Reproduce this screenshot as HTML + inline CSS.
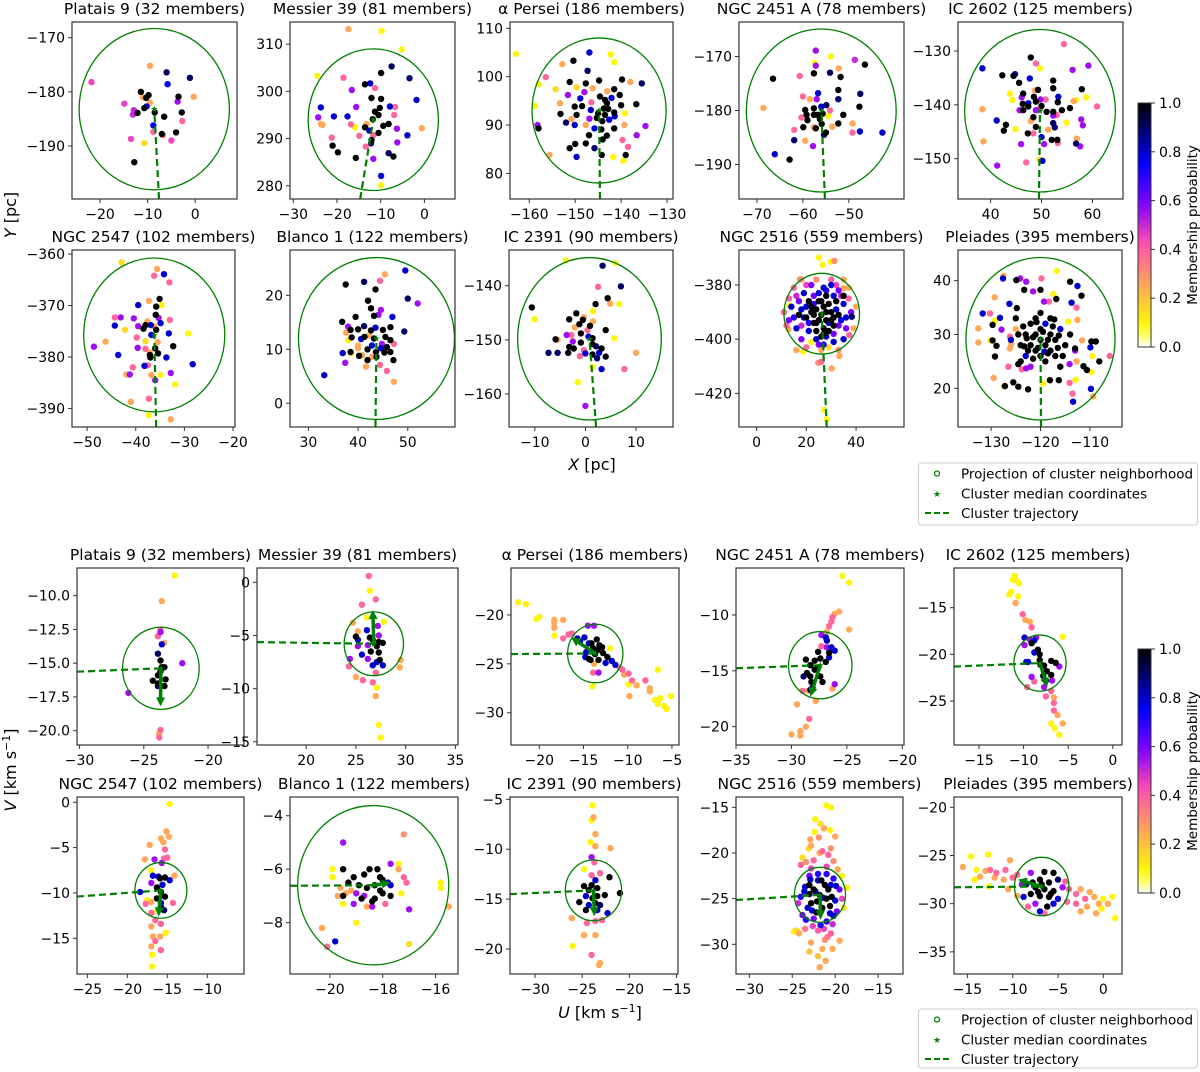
<!DOCTYPE html>
<html><head><meta charset="utf-8">
<style>
html,body{margin:0;padding:0;background:#fff;}
svg{display:block;font-family:"DejaVu Sans","Liberation Sans",sans-serif;}
</style></head>
<body>
<svg id="fig" width="1200" height="1072" viewBox="0 0 1200 1072" xmlns="http://www.w3.org/2000/svg">
<defs>
<linearGradient id="cbgrad" x1="0" y1="1" x2="0" y2="0"></linearGradient>
</defs>
<g id="panels"></g>
<text transform="translate(16,215) rotate(-90)" text-anchor="middle" font-size="16"><tspan font-style="italic">Y</tspan> [pc]</text>
<text x="592" y="470" text-anchor="middle" font-size="16"><tspan font-style="italic">X</tspan> [pc]</text>
<text transform="translate(16,770) rotate(-90)" text-anchor="middle" font-size="16"><tspan font-style="italic">V</tspan> [km s<tspan dy="-6" font-size="11">−1</tspan><tspan dy="6">]</tspan></text>
<text x="600" y="1018" text-anchor="middle" font-size="16"><tspan font-style="italic">U</tspan> [km s<tspan dy="-6" font-size="11">−1</tspan><tspan dy="6">]</tspan></text>
<g id="cbars"></g>
<g id="legends"></g>
</svg>
<script>
// ---------- data ----------
const titles=["Platais 9 (32 members)","Messier 39 (81 members)","α Persei (186 members)","NGC 2451 A (78 members)","IC 2602 (125 members)","NGC 2547 (102 members)","Blanco 1 (122 members)","IC 2391 (90 members)","NGC 2516 (559 members)","Pleiades (395 members)"];
const xTicks=[[-20,-10,0],[-30,-20,-10,0],[-160,-150,-140,-130],[-70,-60,-50],[40,50,60],[-50,-40,-30,-20],[30,40,50],[-10,0,10],[0,20,40],[-130,-120,-110],
[-30,-25,-20],[20,25,30,35],[-20,-15,-10,-5],[-35,-30,-25,-20],[-15,-10,-5,0],[-25,-20,-15,-10],[-20,-18,-16],[-30,-25,-20,-15],[-30,-25,-20,-15],[-15,-10,-5,0]];
const yTicks=[[-170,-180,-190],[280,290,300,310],[80,90,100,110],[-170,-180,-190],[-130,-140,-150],[-360,-370,-380,-390],[0,10,20],[-140,-150,-160],[-380,-400,-420],[20,30,40],
[-10,-12.5,-15,-17.5,-20],[0,-5,-10,-15],[-20,-25,-30],[-10,-15,-20],[-15,-20,-25],[0,-5,-10,-15],[-4,-6,-8],[-5,-10,-15,-20],[-15,-20,-25,-30],[-20,-25,-30,-35]];
const xLims=[[-25.9,8.8],[-30.75,7],[-164.2,-128.7],[-73.9,-38],[33.6,66],[-53.1,-19.6],[26.3,59.5],[-15.1,17.3],[-7.1,59.3],[-136.7,-103.5],
[-30.2,-17.2],[15.06,35.26],[-23.2,-4.2],[-35,-19.85],[-17.8,1.03],[-26.3,-5.4],[-21.51,-15.15],[-32.65,-14.84],[-31.55,-12.1],[-16.48,2.06]];
const yLims=[[-199.8,-167.1],[277.2,314.7],[74.7,111.3],[-196.4,-163.6],[-157.5,-124.6],[-393.6,-359.2],[-4.4,28.4],[-166.1,-133.4],[-432.4,-367.1],[12.8,45.7],
[-21.06,-7.95],[-15.3,1.35],[-33.3,-15.2],[-21.64,-5.8],[-29.7,-10.75],[-18.94,0.58],[-9.92,-3.3],[-22.5,-4.77],[-33.25,-13.87],[-37.3,-18.93]];
const centers=[[-8.6,-183.2],[-11.7,294],[-144.8,93],[-56,-180],[49.7,-141.1],[-36.2,-375.7],[43.7,12],[0.8,-149.8],[26.2,-390.6],[-120,29.2],
[-23.67,-15.38],[26.8,-5.78],[-13.67,-23.94],[-27.4,-14.5],[-8.16,-20.93],[-15.8,-9.72],[-18.36,-6.6],[-23.8,-14.12],[-21.77,-24.58],[-6.8,-28.22]];
const radii=[[15.8,14.9],[14.9,15],[14.6,15],[16.3,15.1],[14.8,15.1],[14.5,14.95],[15.7,15],[14.2,15],[15.2,14.9],[15.1,15.1],
[2.98,3.04],[2.98,3],[3.13,2.99],[2.86,3.01],[2.92,3],[3.25,3.07],[2.86,2.98],[2.98,3.04],[2.98,3.01],[3,3.03]];
const trajPts=[[-7.6,-199.8],[-14.7,277.2],[-144.6,74.7],[-55.2,-196.4],[49.5,-157.5],[-35.8,-393.6],[43.5,-4.4],[2.1,-166.1],[28.2,-432.4],[-119.9,12.8],
[-30.2,-15.63],[15.06,-5.62],[-23.2,-24],[-35,-14.77],[-17.8,-21.3],[-26.3,-10.4],[-21.51,-6.62],[-32.65,-14.5],[-31.55,-25.15],[-16.48,-28.3]];
const arrowEnds=[[-23.7,-18.2],[26.7,-2.6],[-16.4,-22.3],[-28.3,-17.3],[-7.35,-23.5],[-16.1,-12.6],[-17.7,-6.5],[-23.7,-16.7],[-21.7,-27.3],[-9.43,-27.5]];

const pts1=[[-9.5,-175.2,.25],[-6,-176.4,.9],[-1.1,-177.4,.9],[-21.8,-178.2,.45],[-5.8,-178.6,.78],[-11.4,-180,1],[-9.8,-180.6,1],[-10.3,-181.1,1],[-3.5,-180.9,1],[-0.3,-180.9,.25],[-14.9,-182.2,.45],[-11,-181,.25],[-9.5,-182,.25],[-3.7,-181.8,.55],[-12.9,-183.4,.5],[-13.1,-184.2,.5],[-10.7,-183,1],[-10.2,-182.7,.78],[-12.1,-183.9,1],[-8.5,-183.8,1],[-2.8,-183.8,1],[-2.7,-185.4,.38],[-6.5,-184.6,1],[-8.8,-186.2,.75],[-8.8,-187.4,.38],[-7,-187.8,1],[-6.8,-188,.38],[-4,-187.5,1],[-13.5,-188.7,.45],[-5,-189,.45],[-10.7,-189.5,.15],[-12.8,-193,1]];
const pts2=[[-17.4,313.2,.25],[-9.8,312.8,.1],[-5.2,308.9,.1],[-24.5,303.3,.1],[-7.5,305.3,.9],[-9.9,303.9,1],[-3.4,302.8,.9],[-18.5,302.9,.38],[-12.4,301.7,.8],[-13.6,301.5,1],[-11.3,300.7,.38],[-16.6,300.3,.55],[-12.1,298.6,1],[-9.9,298.4,1],[-1.8,298.2,.8],[-23.7,296.6,.8],[-15.6,296.7,.55],[-7.9,296.8,.8],[-6.7,296.7,.38],[-11.3,295.7,1],[-20.7,294.7,.8],[-17.6,294.7,.8],[-24.3,294.5,.55],[-6.9,295,.38],[-11.8,294.1,1],[-10.5,295,1],[-23.7,293.1,.25],[-16.8,293,.38],[-15.9,292.4,.1],[-13.6,292.4,1],[-9.4,292.7,1],[-8.2,293.1,1],[-6.3,292.1,.55],[-0.6,292.2,.25],[-12.6,291.7,.8],[-10.5,291.2,1],[-14.9,290.6,.38],[-11.7,290.7,.38],[-21.2,290.2,.38],[-3.9,290.7,.8],[-12.1,289.7,1],[-12.2,289,.9],[-13.4,288.3,.38],[-6.2,289.2,.55],[-21,288.5,1],[-19.8,287.1,1],[-15.7,285.9,1],[-8.2,286.9,.9],[-7.1,286.2,1],[-11.7,285.7,.55],[-9.9,282.1,.8],[-9.9,280.1,.1],[-23.3,292.9,.25],[-13.2,293.1,.25],[-10.2,296.5,1]];
const pts3=[[-162.9,104.7,.1],[-146.9,105,.8],[-142.3,104.6,.1],[-141.5,103,.1],[-150.4,103.3,1],[-152.8,102.6,.25],[-147.3,101.2,.9],[-156.4,99.9,.38],[-158,98.4,.1],[-151.2,98.9,1],[-147.7,98.6,1],[-144.8,99.2,1],[-139.8,99.4,1],[-138,98.9,.25],[-135.5,98.6,.9],[-154.3,97.4,.15],[-149.7,97.8,.15],[-146.2,97.6,.25],[-141.5,97.4,1],[-143,97,.25],[-151.6,96.2,.55],[-148.9,95.5,.8],[-144.6,95.9,1],[-143.5,95.2,1],[-140.3,96.2,1],[-158.8,93.9,.1],[-153.3,94.5,.25],[-150.1,93.8,1],[-148.5,93.9,1],[-146.6,93.1,.8],[-143.8,93.4,1],[-143.1,94.5,1],[-140,94.1,1],[-136.7,94.3,1],[-153.2,92.3,1],[-149.7,92.1,1],[-145,92.4,1],[-143.5,92.1,1],[-141.5,92.6,1],[-139.2,92.4,.1],[-152,90.5,.9],[-147.7,90,.25],[-145.3,91.5,1],[-144.1,90.8,1],[-142.6,91.1,.8],[-141.4,91.8,.8],[-139.3,90,.25],[-158,89.3,1],[-158.2,90,.55],[-150.1,90,.8],[-145.8,89.3,.8],[-144.3,89.1,1],[-141.5,89.3,1],[-134.7,89.8,.55],[-136.6,87.9,.55],[-147,87.9,1],[-143.1,87.8,1],[-144,87,1],[-139.7,86.9,.38],[-147.7,86.2,1],[-150,86.1,1],[-151.2,85.2,1],[-145.8,85.2,.9],[-138.5,85.5,.38],[-149.7,83.4,.8],[-144.2,83.8,1],[-141.7,83.4,.1],[-139,83.8,1],[-139.5,82.6,.1],[-155.6,83.8,.25],[-146.5,94.7,.38],[-148,96.8,.55],[-142.1,95.6,.8],[-150.8,91.2,.25],[-146.9,91.3,.55],[-142.8,93.3,1]];
const pts4=[[-57.2,-168.9,.55],[-53.9,-170,.1],[-48.7,-170.6,.5],[-46.5,-171.5,1],[-57.4,-171.2,.1],[-57.2,-171.7,.55],[-52.2,-172.2,.25],[-57.6,-173.1,1],[-54.1,-173,.9],[-51.8,-173.8,1],[-66.5,-174.1,1],[-60.7,-173.6,.38],[-52.3,-176.2,1],[-56.7,-176.8,.8],[-52.3,-177.9,.9],[-47.5,-176.9,.9],[-60,-177.4,.38],[-58.5,-177.9,.25],[-57,-177.9,.55],[-47.7,-179.3,1],[-68.6,-179.5,.25],[-59.5,-179.9,1],[-57.6,-179.6,1],[-56,-179.3,.8],[-54.9,-179,.9],[-55.7,-180.6,1],[-57.6,-180.8,1],[-59.2,-180.8,1],[-56.8,-180.8,1],[-54.1,-180,.38],[-54.5,-181,.1],[-51.2,-180.8,1],[-60.3,-181.3,.38],[-59,-181.8,1],[-56.3,-181.6,1],[-55.9,-182.5,1],[-59.9,-183.1,1],[-57.6,-183.1,.25],[-57.2,-183.3,1],[-52.3,-182.4,1],[-53.6,-183,.25],[-61.9,-183.6,.38],[-49.2,-182.4,.25],[-49.2,-184.1,.38],[-47.6,-183.9,.8],[-42.7,-184.1,.8],[-55,-184.1,1],[-55.4,-184.5,.9],[-61.9,-185.5,.9],[-59.5,-185.6,.25],[-57.8,-186.6,.55],[-66.1,-188.1,.8],[-62.9,-189.1,1]];
const pts5=[[54.4,-128.7,.38],[38.4,-133.2,.8],[47.9,-131.2,1],[48.9,-132.3,.38],[49.7,-133.2,.1],[56.1,-133.5,.55],[59.2,-132.7,.55],[42.3,-134.5,1],[44.5,-134.6,1],[44.8,-134.3,.8],[45.6,-135.9,1],[47.7,-135.1,.8],[52.3,-135.5,1],[43.8,-137.9,.1],[46.4,-137.9,1],[48.7,-137.3,.25],[49.3,-137.2,1],[52.3,-136.9,1],[57.9,-137.1,1],[44.3,-139.1,.1],[46.1,-138.6,.55],[48.5,-138.5,1],[49.8,-139,.55],[50.8,-139,.38],[53.3,-138.5,.8],[53.2,-139.5,1],[56.3,-139.3,.25],[56.8,-139.1,.1],[58.8,-138.6,.1],[38.4,-140.8,.25],[46.3,-139.8,1],[47.4,-139.7,.8],[47.4,-140.3,1],[48.9,-139.4,1],[50,-140.2,1],[45.7,-141,.55],[46.4,-141,1],[48.9,-141,.55],[49.7,-140.7,.38],[51,-141.3,1],[52.3,-141.3,1],[54,-141,1],[53,-141.9,.38],[52.3,-142,.55],[60.9,-140.3,.38],[55.6,-140.6,1],[48.4,-142.3,1],[47.9,-143,.25],[48.9,-144.1,1],[52.3,-143.4,.9],[52.6,-144.2,.9],[54.9,-143.3,.1],[57.8,-142.7,.55],[58.1,-143.8,.55],[41.2,-142.9,.8],[43,-143.7,1],[42.6,-144.8,1],[44.9,-144.5,.1],[47.3,-145.3,1],[48.4,-145.3,.38],[50,-146,.8],[51.3,-144.6,.25],[52,-146.5,1],[53.1,-146.5,1],[53.2,-147.1,.38],[56.9,-146.3,.25],[56.8,-147.2,.9],[57.6,-147.7,.55],[38.6,-146.8,.25],[46,-147.3,.55],[50.5,-147.3,.55],[41.3,-151.3,.55],[47,-150.7,.38],[49.6,-150.2,.15],[50.2,-150.4,.8]];
const pts6=[[-42.9,-361.6,.15],[-35.6,-362.9,.25],[-34.2,-363.9,.8],[-36.2,-364.2,.38],[-33.1,-365.5,.38],[-35.1,-368.7,1],[-34.7,-369.9,.1],[-37.3,-369.1,.25],[-39.5,-369.9,.8],[-35.8,-370.2,1],[-35.9,-371.8,1],[-43.1,-372.3,.55],[-40.4,-372.5,.55],[-44.3,-372.3,.38],[-35.3,-372.4,.55],[-37.6,-373.1,.25],[-36.9,-373.8,.8],[-36.2,-374,.25],[-39.5,-374,.55],[-38,-373.8,1],[-33,-372.8,.38],[-44.3,-373.9,.8],[-42.2,-374.7,.15],[-38.4,-374.5,1],[-35.8,-374.7,1],[-34.9,-373.4,.8],[-33.2,-375.4,.8],[-36.8,-375.7,.8],[-29.2,-375.4,.1],[-39.8,-376.2,.38],[-46.2,-377,.25],[-48.6,-378,.55],[-38,-376.9,.15],[-35.5,-377.1,.25],[-32.3,-377.9,1],[-38,-378.4,.38],[-37.1,-379.1,.25],[-36,-378.3,1],[-39.6,-378.2,.55],[-37.1,-379.6,1],[-35.4,-379.3,1],[-43.6,-379.6,.8],[-37,-380.1,1],[-33.7,-380.1,.8],[-37.5,-381.6,.38],[-38.2,-381.7,.8],[-40.6,-382,.38],[-28.3,-381.4,.8],[-41.2,-383.4,.55],[-41.9,-383.4,.25],[-36.8,-383.5,.25],[-34.9,-383.5,.1],[-32.8,-383.1,.55],[-36,-384.5,.55],[-31.9,-385.3,.1],[-41,-388.7,.25],[-37.3,-388.1,.38],[-37.3,-391.3,.1],[-32.8,-392.1,.25]];
const pts7=[[49.5,24.6,.8],[45.4,23.9,.25],[44.4,22.7,.38],[41.2,22.5,.9],[37.5,22,1],[43.5,21.1,1],[50,19.4,.9],[52,18.5,.55],[42,19,1],[42.6,17.6,1],[44.1,16.4,.55],[44.6,17.3,.55],[46.9,16,.8],[36.8,15.1,1],[39.5,16,1],[43.2,16.2,1],[38,14.2,.55],[41.2,14.3,.9],[43.5,14,.8],[46.5,14.1,1],[38.5,13.6,1],[40,13.7,1],[45,13.6,1],[42.6,13.5,1],[49.3,13.3,.9],[37.6,13.1,.25],[38.7,12.2,1],[41.3,12.3,1],[42.2,12.6,.25],[43.2,12,1],[45.5,12.3,1],[46.5,11.7,1],[40.6,11.9,.8],[38,11.7,.1],[44.8,11,.55],[47.2,11,.38],[40,10.7,.25],[42.8,10.7,.8],[45.8,10.4,1],[40,10.2,.25],[41.9,10,1],[44.6,10.2,.8],[43.6,9.5,1],[38.5,9.5,1],[40.8,8.9,.25],[46.5,9.5,1],[47.1,8,1],[45.3,9.4,1],[40.2,8.8,1],[41.9,8,1],[36.9,9.3,.8],[38.6,9.3,.1],[37.4,7.5,.55],[42.8,8.6,.25],[43.7,8.6,1],[44.4,7.1,.38],[45.8,6,.38],[41.6,6.8,.25],[33.2,5.2,.8],[47.2,4,.25]];
const pts8=[[-3.9,-135.3,.1],[3.4,-136.3,.9],[5.9,-135.8,.1],[2.5,-140.2,.38],[7,-140.1,.9],[2,-143.4,1],[4.4,-142.3,1],[4.9,-143.3,.25],[6.7,-143.4,.1],[-10.6,-144,1],[-10,-146.2,.1],[-1.8,-145.1,1],[1.5,-144.7,.1],[-0.3,-145.8,.25],[1.5,-146.6,.25],[-0.5,-146.3,1],[-3.2,-146.2,1],[-1.2,-147.1,1],[0.9,-147.4,1],[4,-148.2,1],[0.4,-148.2,.38],[-2.1,-147.7,.25],[-3.7,-149.1,.55],[-0.9,-148.8,1],[1.4,-149.7,1],[0.6,-149.4,.8],[-2.8,-149.1,.38],[5.7,-149.7,.1],[-5.9,-149.9,1],[-5.5,-150,.25],[-2.5,-150.3,.55],[-0.9,-150.5,1],[1.4,-150.8,1],[-3.2,-151.3,1],[-2.3,-151.6,1],[2.1,-151.2,.9],[3.2,-151.6,1],[-0.3,-151.9,.38],[-3.4,-152.4,1],[-7.3,-152.4,.9],[-5.5,-152.4,.9],[2.7,-152.4,.8],[-1.1,-153,.38],[0,-152.5,.8],[1.4,-152.7,1],[4,-153.1,1],[2.3,-153.4,.9],[10,-152.4,.25],[1.4,-155,.1],[3.2,-155.4,.8],[7.7,-155.4,.38],[-1.5,-157.8,.1],[0,-162.2,.55]];
const pts9=[[25.1,-369.9,.1],[26.5,-372.6,.1],[29.9,-371.4,.1],[31.3,-371.1,.3],[27.1,-426.1,.1],[28.2,-429.6,.1],[24.8,-408.7,.3],[26,-408.3,.38],[30.2,-410.8,.25],[33.3,-406.2,.25],[18.8,-404.6,.1],[12.8,-396.4,.25],[13.2,-387.7,.1],[17.4,-377.9,.25],[38.3,-391.7,.9],[37.3,-398.5,.38],[34.9,-381.2,.25],
[15,-381,.38],[37,-381,.25],[12,-395,.38],[39,-396,.25],[20,-403,.38],[33,-404,.3],[26,-404,.25],[16,-404,.25],[11,-390,.38],[40,-388,.25],[24,-378,.3],[30,-378,.38],[18,-378,.3],[35,-378,.25],[22,-401,.1],[29,-403,.15],
[19,-383,.8],[33,-382,.6],[14,-388,.8],[36,-396,.6],[22,-380,.6],[30,-380,.8],[16,-396,.8],[38,-390,.6],[25,-402,.6],[31,-401,.8],[18,-400,.6],[27,-381,.8],[35,-400,.8],[13,-393,.6],[17,-386,.6],[35,-387,.8],[21,-397,.8],[31,-384,.8],[23,-384,.6],[28,-399,.8],[19,-392,.8],[33,-395,.6],[36,-392,.8],[15,-392,.7],
[20,-388,.8],[23,-387,.7],[32,-389,.8],[34,-393,.75],[29,-394,.8],[21,-394,.7],[25,-383,.8],[28,-382,.7],[18,-395,.5],[31,-398,.6],[24,-400,.8],[16,-384,.5],[34,-384,.5],[13,-385,.4],[37,-385,.4],[20,-380,.45],[32,-380,.45],[18,-389,.8],[27,-402,.7],
[26,-391,1],[24,-389,1],[28,-393,1],[23,-394,1],[30,-390,1],[27,-396,1],[25,-386,1],[31,-395,1],[22,-390,1],[29,-387,1],[26,-399,1],[20,-392,1],[33,-391,1],[24,-397,1],[28,-384,1],[21,-386,1],[17,-391,1],[32,-386,1],[35,-384,1],[27,-388,1],[25,-393,1],[29,-397,1],[23,-391,1],[30,-393,1],[26,-386,1],[28,-390,1],[24,-394,1],[31,-392,1],[22,-388,1],[27,-398,1]];
const pts10=[[-116.7,41.8,.1],[-127.5,40.9,.25],[-124.9,40.1,1],[-124.1,40.4,.55],[-119.8,40.4,.38],[-127.6,40.4,.8],[-122.9,39.8,.55],[-114,39.8,1],[-112.5,39,.8],[-123.3,38.3,1],[-120,38.3,1],[-121.5,38,.55],[-117.4,37.5,.1],[-111.7,37.2,1],[-129.3,36.9,.25],[-116.8,36.6,1],[-119.3,36.1,.55],[-118.3,36.1,.38],[-113.7,35.9,.8],[-112.7,35,.38],[-126.3,35.7,.8],[-124.8,34.9,1],[-131.7,33.9,.8],[-130.2,33.9,.38],[-128.2,33.1,.8],[-129.2,32.6,.1],[-114.4,32.4,.1],[-112.5,32.7,.25],[-132.6,31.1,.25],[-129.7,31.8,1],[-127.9,30.9,.55],[-128.9,27.9,1],[-130.2,28.9,.1],[-129.7,28.9,1],[-132.6,28.5,.25],[-126.2,29.6,.38],[-125.9,28.2,.25],[-126.2,27.4,.25],[-109.7,28.7,1],[-108.8,28.7,1],[-109.9,27.6,.8],[-111.6,28.9,.25],[-113,27.4,1],[-106,26,.38],[-108.1,25,1],[-109.5,26,.1],[-112.7,25,.25],[-129.2,25.9,1],[-126.5,24,.38],[-114.1,24.5,.55],[-111.3,24.1,1],[-110.6,23.4,1],[-129.5,21.9,.25],[-127.4,20.4,.1],[-127.2,20.4,1],[-125.5,21.1,1],[-124.5,20.3,1],[-122.5,19.8,1],[-119.5,20.9,.1],[-118.1,21.5,1],[-116.3,21.5,1],[-114.1,21,.38],[-112.9,21.6,.1],[-109.7,23,.1],[-109.8,19.9,.8],[-109.3,18.5,.25],[-113.5,19,.38],[-113.4,17.5,.8],[-123.8,23.5,.38],[-122.9,23.7,.55],[-124.5,24.5,1],
[-120,29,1],[-121,30,1],[-119,28,1],[-122,28,1],[-118,30,1],[-120,31,1],[-121,27,1],[-117,29,1],[-123,30,1],[-119,32,.8],[-122,32,1],[-118,27,1],[-124,28,1],[-116,31,.8],[-120,26,1],[-123,26,.8],[-117,26,1],[-125,31,.25],[-115,28,1],[-121,33,1],[-119,25,1],[-124,25,1],[-116,24,1],[-122,24,.55],[-118,33,1],[-126,29,.8],[-114,30,1],[-120,34,1],[-125,33,1],[-113,27,.55],[-121.5,29.5,1],[-118.5,29,1],[-120.5,27.5,1],[-119.5,30.5,1],[-122.5,27,1],[-117.5,31.5,1],[-123.5,31.5,1],[-116.5,27.5,1],[-121.5,25.5,1],[-118.5,26.5,1],[-122.8,29.3,1],[-117.2,32.8,1],[-115.5,26,1],[-124.5,30,1],[-120.8,32.3,1],[-119.2,26.8,.8],[-116.3,29.8,1],[-123.3,27.8,1]];
const pts11=[[-22.6,-8.5,.1],[-23.6,-10.4,.25],[-23.7,-12.7,.55],[-23.9,-13,.38],[-23.7,-12.5,.38],[-23.4,-13.5,.25],[-23.6,-13.6,.8],[-23.9,-14.3,.9],[-23.7,-14.8,1],[-22,-15,.55],[-23.6,-15.3,1],[-23.4,-15.3,1],[-23.7,-15.6,1],[-23.9,-15.9,1],[-24.3,-16.3,1],[-23.3,-16.2,1],[-23.9,-16.5,1],[-23.9,-16.7,.9],[-23.4,-16.7,1],[-26.2,-17.2,.55],[-23.7,-19.95,.38],[-23.8,-20.2,.25],[-23.8,-20.5,.38]];
const pts12=[[26.3,0.6,.38],[26.4,-0.8,.1],[27,-1.6,.38],[25.6,-2.1,.38],[27.8,-3.7,.1],[24.7,-3.8,.25],[26.1,-3.3,.1],[27.2,-4.1,.55],[26.1,-4.5,.8],[25.2,-4.6,.25],[25.2,-5.4,.8],[25,-5.1,1],[27.3,-5,.55],[26.4,-5.2,1],[26.7,-5.4,1],[27.3,-5.6,1],[27.7,-5.7,1],[26.2,-5.9,.55],[27.1,-6,1],[25.2,-6,.55],[26.5,-6.5,1],[27.3,-6.6,1],[25.6,-6.8,.8],[26.2,-7.2,.55],[24.4,-7.2,.55],[27.4,-7.3,1],[27.7,-7.8,.8],[26.7,-7.8,.8],[27.1,-7.5,.8],[29.5,-7.3,.25],[29.4,-8,.25],[24.3,-7.9,.38],[27,-8.5,.38],[25.7,-9.2,.38],[25,-8.9,.25],[26.7,-9.4,.38],[27.1,-9.9,.1],[27,-10.7,.25],[27.3,-13.4,.1],[27.5,-14.6,.1]];
const pts13=[[-22.4,-18.7,.1],[-21.5,-18.9,.1],[-20.3,-20.4,.1],[-20,-20.2,.1],[-18.3,-20.5,.25],[-18.3,-20.8,.25],[-17.3,-20.5,.25],[-18.3,-21.3,.25],[-18.3,-22.1,.1],[-17.3,-22.4,.38],[-16.7,-22,.38],[-16.3,-21.9,.38],[-14.5,-21.1,.55],[-13.8,-21.1,.55],[-15.7,-22.4,.8],[-14.9,-22.3,.8],[-15.4,-22.7,.8],[-14.4,-22.9,.8],[-13.5,-22.5,1],[-14.1,-22.9,1],[-13.2,-23.1,1],[-13.9,-23.4,1],[-13.4,-23.6,1],[-12.9,-23.3,1],[-12,-23.4,.1],[-14.7,-23.8,.8],[-13.7,-24,1],[-12.8,-23.9,1],[-14.8,-24.3,.8],[-14.2,-24.6,1],[-13.3,-24.6,1],[-12.3,-24.3,1],[-12.5,-24.9,.8],[-11.8,-24.7,.8],[-11.4,-25.1,.8],[-13.8,-25,.25],[-14.4,-24.5,1],[-13.3,-25.9,.55],[-13.9,-25.9,.38],[-10.9,-25.4,.38],[-10.6,-25.6,.38],[-10.4,-26.1,.25],[-9.9,-26,.38],[-9.5,-26.7,.38],[-9,-27.2,.25],[-9.9,-27.1,.1],[-8,-26.7,.38],[-9.8,-28.3,.25],[-7.5,-27.5,.25],[-7.5,-27.8,.25],[-6.6,-25.6,.1],[-6.9,-28.7,.1],[-6.3,-28.5,.1],[-6.6,-29.1,.1],[-5.9,-29.3,.1],[-5.6,-29.6,.1],[-5.1,-28.3,.1],[-14,-27.3,.1]];
const pts14=[[-25.4,-6.5,.1],[-24.8,-7.1,.1],[-25.7,-9.7,.25],[-26.1,-9.9,.25],[-26.3,-10.2,.38],[-26.4,-10.6,.38],[-26.6,-11,.38],[-24.8,-11.3,.25],[-26.8,-11.5,.25],[-27.3,-11.8,.55],[-26.9,-12,.8],[-26.8,-12.3,.8],[-27.3,-12.8,.38],[-26.4,-12.9,.8],[-26.1,-13.2,.8],[-26.8,-12.9,.55],[-27.6,-13.3,1],[-26.6,-13.4,1],[-27.4,-13.9,1],[-26.9,-14.2,1],[-26.6,-13.8,.8],[-27.9,-14.1,1],[-28.7,-14,1],[-28.3,-14.5,1],[-27.6,-14.7,1],[-27.9,-14.9,1],[-28.6,-15.2,1],[-27.4,-15.5,1],[-28.3,-15.5,1],[-28.9,-15.5,.9],[-28.2,-16,1],[-27.2,-16,1],[-28.1,-16.5,.9],[-28.3,-16.7,.9],[-26.1,-16.2,.55],[-26.3,-16.6,.25],[-29,-16.8,.38],[-28.5,-16.8,.25],[-27.8,-17.7,.25],[-29.5,-18,.25],[-28.4,-19.3,.38],[-28.7,-20,.25],[-29.2,-20.4,.25],[-29.2,-20.8,.25],[-30,-20.7,.25]];
const pts15=[[-11,-11.6,.1],[-11.2,-12,.1],[-10.7,-12.2,.1],[-10.5,-12.4,.1],[-11.4,-13.3,.1],[-10.6,-13.8,.1],[-11.6,-13.6,.1],[-10.9,-14.5,.25],[-10.1,-15.7,.38],[-9.8,-16.3,.25],[-9.3,-16.5,.25],[-9.1,-17.1,.38],[-9.9,-18.2,.8],[-9.3,-18.4,.55],[-8.6,-18.2,.55],[-8.8,-18.5,.8],[-9.9,-19,.55],[-9.1,-18.8,1],[-8.4,-19.5,1],[-8.2,-20,1],[-8.8,-19.8,.8],[-5.6,-18.1,.1],[-9.5,-20.8,.8],[-9.7,-20.8,.8],[-8.2,-20.6,1],[-7.7,-21.2,1],[-8.1,-21.1,1],[-6.9,-20.7,1],[-6.4,-20.9,1],[-6,-21.3,.55],[-7.4,-21.8,1],[-7.8,-22.3,1],[-6.9,-22.2,1],[-7.5,-22.8,.9],[-6.8,-22.8,.55],[-9.1,-22.4,.55],[-8.8,-22.9,.38],[-9.6,-23.5,.38],[-7.7,-23.5,.55],[-6.9,-23.9,.38],[-7.5,-24.5,.38],[-6.6,-24.6,.25],[-6.6,-25.2,.38],[-6.6,-26,.38],[-6.2,-26.5,.25],[-6.9,-27.4,.1],[-5.6,-27.4,.25],[-6.5,-27.9,.1],[-6,-28.6,.1]];
const pts16=[[-14.7,-0.2,.1],[-15.1,-3.2,.25],[-14.8,-3.8,.25],[-15.8,-4,.25],[-15.5,-4.4,.25],[-17.2,-4.7,.25],[-15.3,-5.2,.38],[-17.8,-6.3,.25],[-16.6,-6.3,.55],[-15.4,-6.2,.38],[-15,-6.1,.38],[-15.7,-6.7,.55],[-17,-7.5,.1],[-14.1,-8.1,.25],[-16.8,-8.1,.8],[-15.9,-8.4,1],[-16.1,-8.2,.8],[-15.3,-8.3,1],[-17,-8.9,.55],[-15.6,-9.1,.8],[-16.3,-9.4,1],[-14.7,-8.6,.8],[-15.8,-9.9,1],[-18.4,-9.9,.8],[-15.3,-10.4,1],[-16.3,-10.6,1],[-15.8,-11.1,.8],[-17,-11,.25],[-17.5,-10.8,.1],[-15.8,-11.5,.8],[-15.4,-11.9,.9],[-17.7,-11.2,.38],[-14.3,-11.1,.38],[-17,-12.2,.38],[-16.3,-12,.1],[-16.5,-13,.38],[-15.8,-13.4,.38],[-17,-13.7,.25],[-16.8,-14.8,.25],[-15.9,-14.8,.25],[-16.5,-15.3,.38],[-17,-15.9,.25],[-15.2,-14.4,.1],[-15.8,-16.3,.38],[-16.9,-16.8,.1],[-16.9,-18.1,.1]];
const pts17=[[-17.2,-4.7,.3],[-19.5,-5,.55],[-17.7,-5.8,.55],[-17.4,-5.8,.1],[-17.4,-6,.25],[-19.9,-6,.1],[-17.2,-6.3,.38],[-17.1,-6.5,.38],[-19.9,-6.3,.1],[-19.5,-6,1],[-19.1,-6.3,1],[-19.3,-6.5,1],[-18.7,-6.2,1],[-18.5,-6,1],[-18.2,-6,1],[-18.1,-6.3,1],[-18,-6.4,1],[-17.8,-6.5,.8],[-17.7,-6.6,.8],[-18.3,-6.6,1],[-18.9,-6.6,1],[-18.6,-6.7,1],[-18.1,-6.8,1],[-19,-6.9,.55],[-18.7,-7,.55],[-18,-6.9,1],[-17.7,-7,1],[-19.4,-6.9,.25],[-19.6,-6.7,.25],[-19.5,-7,1],[-18.8,-7.1,1],[-18.3,-7.1,1],[-18.4,-7.2,1],[-19.1,-7.3,.55],[-17.9,-7.3,.38],[-18.6,-7.4,.25],[-17.3,-6.9,.1],[-19.7,-7,.25],[-19.2,-6.8,.25],[-19.5,-7.3,.1],[-18.4,-7.4,.55],[-17,-7.5,.55],[-20.3,-8.2,.25],[-19,-8,.1],[-19.8,-8.7,.8],[-20.1,-8.9,.38],[-17,-8.8,.15],[-15.8,-6.5,.1],[-15.8,-6.7,.1],[-15.5,-7.4,.25]];
const pts18=[[-23.9,-5.6,.1],[-23.8,-6.8,.25],[-24,-7.1,.1],[-23.6,-8.5,.25],[-24.1,-9.3,.1],[-23.6,-9.7,.25],[-24,-10.8,.55],[-23.7,-11.3,.38],[-24.8,-12,.1],[-24,-12.6,.38],[-23.6,-13.1,.8],[-24,-13.6,1],[-24.8,-13.7,1],[-23.4,-13.9,1],[-24.3,-14.1,1],[-24.6,-14.7,.8],[-23.9,-14.9,1],[-23.4,-14.7,1],[-25.3,-15.3,1],[-24.3,-15.6,.8],[-23.6,-15.4,1],[-24.6,-16.1,1],[-23.4,-16.1,.8],[-26.1,-16.9,.25],[-24.5,-17.4,.38],[-23.6,-17.2,.38],[-24.8,-18.6,.25],[-23.6,-18.6,.25],[-26,-19.7,.1],[-24,-20.6,.38],[-23.2,-21.6,.25],[-22,-9.9,.25],[-23.1,-12.4,.38],[-22.1,-12.8,1],[-21,-14.4,1],[-22.6,-14.6,1],[-23.1,-15.6,.9],[-22.3,-16.4,.8],[-22.9,-17.1,.38],[-23.1,-21.4,.25]];
const pts19=[[-21,-14.8,.1],[-20.5,-15,.1],[-22.3,-16.3,.1],[-21.7,-16.8,.15],[-22.4,-17.7,.1],[-21.3,-17.3,.25],[-20,-18.2,.25],[-21.9,-18.3,.3],[-23.1,-19.5,.15],[-21.5,-19.8,.38],[-20.5,-19.5,.3],[-23.8,-20.5,.15],[-22.5,-20.8,.38],[-20.2,-20.9,.3],[-19.7,-21.8,.25],[-24,-21.3,.38],[-21,-21.5,.45],[-22.8,-21.7,.45],
[-22.8,-19.2,.25],[-20.8,-20.2,.38],[-23.4,-21,.3],[-21.8,-20,.25],[-20.6,-17.5,.1],[-22.9,-18.5,.25],
[-23,-22.5,.6],[-21,-22.3,.7],[-22,-23,.8],[-20.5,-23.5,.8],[-23.5,-23.7,.8],[-19.5,-24,.6],[-24,-24.8,.7],[-20,-25.2,.8],[-23.2,-26,.8],[-19.8,-26.4,.6],[-22.5,-27.2,.6],[-21,-27.5,.7],[-23.8,-26.8,.6],[-20.3,-27.8,.5],[-22,-22.3,.7],[-19.2,-25,.45],[-24.3,-25.5,.5],[-22.3,-24.2,.8],[-21.4,-24.9,.8],[-20.6,-26.6,.8],[-22.9,-22.9,.8],[-20.2,-22.8,.7],[-23.6,-24.2,.8],[-19.9,-23.6,.8],[-23.4,-27.3,.7],[-20.2,-26.9,.8],[-21.7,-27.9,.7],[-22.7,-26.3,.8],
[-21.8,-24.6,1],[-22.5,-24,1],[-21,-25,1],[-22.8,-25.5,1],[-21.5,-26,1],[-20.8,-24,1],[-23,-24.5,1],[-21.2,-23.5,1],[-22.2,-26.5,1],[-20.6,-25.8,1],[-23,-23.5,1],[-21.6,-23,1],[-22.1,-25.3,1],[-20.4,-24.8,1],
[-22,-28.5,.4],[-23.5,-28.3,.35],[-20.5,-28.8,.4],[-24.2,-28.8,.25],[-21.2,-29.5,.3],[-22.8,-29.8,.25],[-19.5,-29.6,.25],[-21.5,-30.5,.25],[-23,-30.8,.2],[-20.3,-30.5,.25],[-22,-31.3,.2],[-21.1,-31.8,.25],[-21.8,-32.5,.25],[-24.5,-28.5,.15],[-19.2,-22.5,.1],[-19,-26,.15],[-24.8,-28.6,.1],[-18.6,-23.8,.1],[-22.6,-28,.45],[-21.3,-28.3,.45],[-20.9,-29.2,.35]];
const pts20=[[-14.6,-25.1,.1],[-15.5,-26.2,.25],[-12.7,-24.9,.1],[-14,-26.5,.1],[-13,-26.6,.25],[-12.5,-26.5,.38],[-11.8,-26.8,.38],[-10.8,-26.5,.38],[-10.3,-25.5,.25],[-13.6,-27.2,.25],[-12,-27.3,.25],[-11,-27.5,.25],[-10,-27.3,.38],[-9.5,-27,.38],[-14.2,-27.5,.1],[-12.6,-28.2,.1],[-10.5,-28.5,.25],[-9.5,-29.2,.25],
[-8,-26.8,.55],[-6.5,-26.7,1],[-5.5,-26.8,1],[-7,-27.5,1],[-6,-27.8,1],[-5,-27.5,.9],[-8.5,-28,.8],[-7.5,-28.3,1],[-6.5,-28.5,1],[-5.5,-28.7,1],[-4.5,-28.3,.55],[-8,-29,1],[-7,-29.2,1],[-6,-29.3,1],[-5,-29.5,.8],[-8.8,-29.3,.8],[-7.5,-30,.55],[-6.2,-30.3,1],[-5.5,-30,.8],[-7,-30.8,.8],[-8.3,-30.3,.38],[-6.5,-31,.38],[-9,-28,.55],[-4.2,-27.7,.38],[-7.8,-27.8,1],[-6.8,-28,1],[-5.8,-29,1],[-7.2,-28.8,1],
[-3.8,-28.5,.38],[-3,-29,.38],[-2.5,-28.5,.25],[-2,-29.5,.38],[-1.5,-28.8,.25],[-1,-29.3,.25],[-0.5,-30,.25],[0,-29.5,.1],[0.5,-30,.25],[-3,-30,.38],[-1.8,-30.3,.25],[-0.8,-31,.25],[1,-29.3,.1],[1.3,-31.5,.1],[-2.5,-30.8,.25],[-4,-29.8,.38],[-0.2,-30.5,.1]];
const allPts=[pts1,pts2,pts3,pts4,pts5,pts6,pts7,pts8,pts9,pts10,pts11,pts12,pts13,pts14,pts15,pts16,pts17,pts18,pts19,pts20];
const cbTicks=[0,0.2,0.4,0.6,0.8,1.0];

// ---------- layout (pixels) ----------
const boxes=[[72,22,237,199],[290,22,455,199],[510,22,673,199],[739,22,904,199],[958,22,1123,199],
[72,250,235,427],[290,250,455,427],[509,250,673,427],[739,250,904,427],[958,250,1122,427],
[77,568,244,745],[257,568,458,745],[511,568,679,745],[736,568,904,745],[954,568,1122,745],
[77,797,244,974],[290,797,458,974],[510,797,678,974],[736,797,903,974],[954,797,1122,974]];

const NS="http://www.w3.org/2000/svg";
function mk(tag,attrs,parent){const e=document.createElementNS(NS,tag);for(const k in attrs)e.setAttribute(k,attrs[k]);if(parent)parent.appendChild(e);return e;}
function clip(v){return Math.max(0,Math.min(1,v));}
function cmap(p){const x=1-p;const r=clip(x/0.32-0.78125),g=clip(2*x-0.84);let b;
 if(x<0.25)b=4*x;else if(x<0.42)b=1;else if(x<0.92)b=-2*x+1.84;else b=x/0.08-11.5;b=clip(b);
 return "rgb("+Math.round(r*255)+","+Math.round(g*255)+","+Math.round(b*255)+")";}
function fmt(v,dec){const s=Math.abs(v).toFixed(dec);return (v<0?"−":"")+s;}

const root=document.getElementById("panels");
for(let i=0;i<20;i++){
 const [bx0,by0,bx1,by1]=boxes[i];const xl=xLims[i],yl=yLims[i];
 const sx=v=>bx0+(v-xl[0])/(xl[1]-xl[0])*(bx1-bx0);
 const sy=v=>by1-(v-yl[0])/(yl[1]-yl[0])*(by1-by0);
 const g=mk("g",{},root);
 
 
 const t=mk("text",{x:(bx0+bx1)/2,y:by0-8,"text-anchor":"middle","font-size":"15.5"},g);
 
 
 t.textContent=titles[i%10];
 const cid="clip"+i;const cp=mk("clipPath",{id:cid},g);mk("rect",{x:bx0,y:by0,width:bx1-bx0,height:by1-by0},cp);
 const pg=mk("g",{"clip-path":"url(#"+cid+")"},g);
 const pts=allPts[i].slice().sort((a,b)=>a[2]-b[2]);
 for(const p of pts){const c=mk("circle",{cx:sx(p[0]).toFixed(1),cy:sy(p[1]).toFixed(1),r:"3.2",fill:cmap(p[2])},pg);
  
  }
 const [cx,cy]=centers[i],[rx,ry]=radii[i];
 const el=mk("ellipse",{cx:sx(cx),cy:sy(cy),rx:Math.abs(sx(cx+rx)-sx(cx)),ry:Math.abs(sy(cy+ry)-sy(cy)),fill:"none",stroke:"#008000","stroke-width":"1.3"},pg);
 
 
 const tp=trajPts[i];
 const tl=mk("line",{x1:sx(tp[0]),y1:sy(tp[1]),x2:sx(cx),y2:sy(cy),stroke:"#008000","stroke-width":"2.2","stroke-dasharray":"7,4"},pg);
 
 
 if(i>=10){const ae=arrowEnds[i-10];const x1=sx(cx),y1=sy(cy),x2=sx(ae[0]),y2=sy(ae[1]);
  const dx=x2-x1,dy=y2-y1,L=Math.hypot(dx,dy),ux=dx/L,uy=dy/L,hl=9,hw=4.5;
  const bxp=x2-ux*hl,byp=y2-uy*hl;
  const al=mk("line",{x1:x1,y1:y1,x2:bxp,y2:byp,stroke:"#008000","stroke-width":"3.5"},pg);
  
  
  const ah=mk("polygon",{points:[x2,y2,bxp-uy*hw,byp+ux*hw,bxp+uy*hw,byp-ux*hw].map(v=>v.toFixed(1)).join(","),fill:"#008000"},pg);
  
  }
 const st=mk("text",{x:sx(cx),y:sy(cy)+3,"text-anchor":"middle","font-size":"9",fill:"#008000"},pg);
 
 
 st.textContent="★";
 const fr=mk("rect",{x:bx0,y:by0,width:bx1-bx0,height:by1-by0,fill:"none",stroke:"#333","stroke-width":"1.2"},g);
 
 
 const dec=(i===10)?1:0;
 for(const v of xTicks[i]){const X=sx(v);mk("line",{x1:X,y1:by1,x2:X,y2:by1+4,stroke:"#333","stroke-width":"1"},g);
  const tt=mk("text",{x:X,y:by1+20,"text-anchor":"middle","font-size":"14"},g);
  
  
  tt.textContent=fmt(v,0);}
 for(const v of yTicks[i]){const Y=sy(v);mk("line",{x1:bx0-4,y1:Y,x2:bx0,y2:Y,stroke:"#333","stroke-width":"1"},g);
  const tt=mk("text",{x:bx0-7,y:Y+5,"text-anchor":"end","font-size":"14"},g);
  
  
  tt.textContent=fmt(v,dec);}
}

// colorbars
const grad=document.getElementById("cbgrad");
for(let k=0;k<=20;k++){mk("stop",{offset:(k/20),"stop-color":cmap(k/20)},grad);}
const cb=document.getElementById("cbars");
[[103,347],[649,893]].forEach(([y0,y1],j)=>{
 const g=mk("g",{},cb);
 
 
 mk("rect",{x:1138,y:y0,width:13,height:y1-y0,fill:"url(#cbgrad)",stroke:"#333","stroke-width":"1"},g);
 for(const v of cbTicks){const Y=y1-v*(y1-y0);mk("line",{x1:1151,y1:Y,x2:1155,y2:Y,stroke:"#333"},g);
  const tt=mk("text",{x:1159,y:Y+5,"font-size":"14"},g);
  
  
  tt.textContent=v.toFixed(1);}
 const lb=mk("text",{transform:"translate(1197,"+((y0+y1)/2)+") rotate(-90)","text-anchor":"middle","font-size":"13.5"},g);
 
 
 lb.textContent="Membership probability";
});

// legends
const lg=document.getElementById("legends");
[[463,525],[1009,1068]].forEach(([y0,y1],j)=>{
 const g=mk("g",{},lg);
 
 
 mk("rect",{x:918.5,y:y0,width:279,height:y1-y0,rx:3,fill:"#fff",stroke:"#ccc","stroke-width":"1"},g);
 const rows=[y0+10.5,y0+30.5,y0+50];
 mk("circle",{cx:937,cy:rows[0],r:2.5,fill:"none",stroke:"#008000","stroke-width":"1.3"},g);
 const s=mk("text",{x:937,y:rows[1]+3.5,"text-anchor":"middle","font-size":"9",fill:"#008000"},g);s.textContent="★";
 mk("line",{x1:925,y1:rows[2],x2:951,y2:rows[2],stroke:"#008000","stroke-width":"2","stroke-dasharray":"6,3"},g);
 const labels=["Projection of cluster neighborhood","Cluster median coordinates","Cluster trajectory"];
 labels.forEach((L,k)=>{const tt=mk("text",{x:961,y:rows[k]+5,"font-size":"13.5"},g);
  
  
  tt.textContent=L;});
});
</script>
</body></html>
